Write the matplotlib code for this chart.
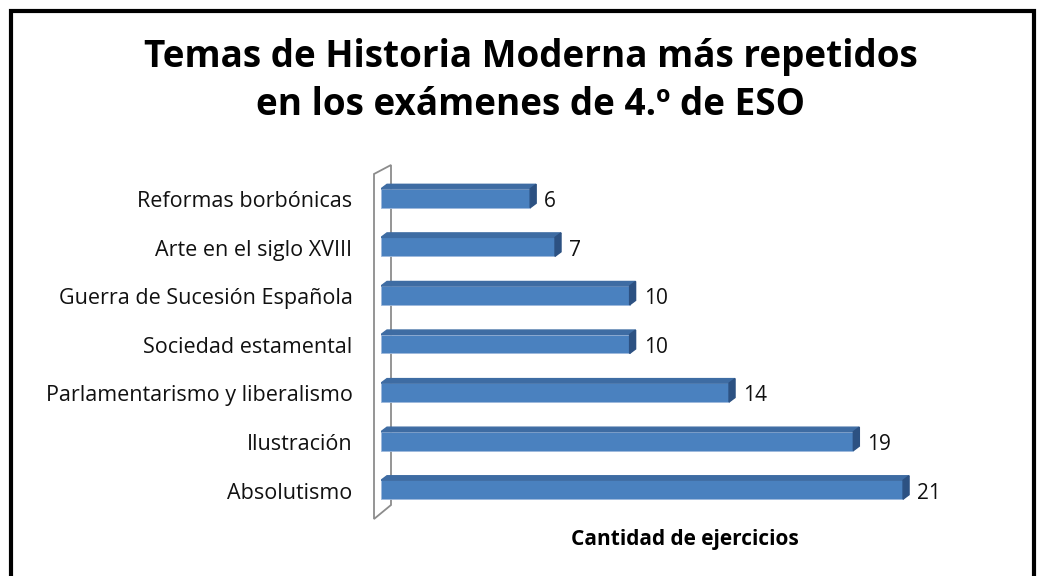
import numpy as np
import matplotlib.pyplot as plt
from matplotlib.patches import Polygon, Rectangle

# Data (top to bottom in the chart)
temas = ['Reformas borbónicas', 'Arte en el siglo XVIII', 'Guerra de Sucesión Española',
         'Sociedad estamental', 'Parlamentarismo y liberalismo', 'Ilustración', 'Absolutismo']
cantidad = [6, 7, 10, 10, 14, 19, 21]

titulo = 'Temas de Historia Moderna más repetidos\nen los exámenes de 4.º de ESO'
eje_x = 'Cantidad de ejercicios'

plt.rcParams['font.family'] = ['Open Sans', 'DejaVu Sans']

W, H = 1042, 576
fig = plt.figure(figsize=(W / 100, H / 100), dpi=100)

# axes placed in pixels: x 381 -> 0, 24.86 px per unit
px_unit = 24.86
ax_left, ax_w = 381, 25 * px_unit
ax_top, ax_bot = 174, 514
ax = fig.add_axes([ax_left / W, 1 - ax_bot / H, ax_w / W, (ax_bot - ax_top) / H])
ax.set_xlim(0, 25)
ax.set_ylim(-0.5, len(temas) - 0.5)
ax.axis('off')

n = len(temas)
ypos = np.arange(n)[::-1]
bh = 0.39
dx = 6 / px_unit          # depth offset in data units
dy = 4.5 / 48.6

front = '#4A81BF'
top_c = '#3E6CA3'
side_c = '#2C5182'

ax.barh(ypos, cantidad, height=bh, color=front, edgecolor='#9DB9DC', linewidth=0.6, zorder=3)
for y, v, t in zip(ypos, cantidad, temas):
    yt = y + bh / 2
    yb = y - bh / 2
    ax.add_patch(Polygon([(0, yt), (v, yt), (v + dx, yt + dy), (dx, yt + dy)],
                         closed=True, color=top_c, zorder=3))
    ax.add_patch(Polygon([(v, yb), (v + dx, yb + dy), (v + dx, yt + dy), (v, yt)],
                         closed=True, color=side_c, zorder=3))
    ax.text(v + dx + 0.33, y - 0.07, str(v), va='center', ha='left', fontsize=15, color='#111111')
    ax.text(-1.15, y - 0.07, t, va='center', ha='right', fontsize=15.5, color='#111111')

# left wall
wx0, wx1 = -7 / px_unit, 10 / px_unit
ax.add_patch(Polygon([(wx0, -0.5 - 5 / 48.6), (wx0, n - 0.5), (wx1, n - 0.5 + 9 / 48.6),
                      (wx1, -0.5 + 9 / 48.6)], closed=True, fill=False, edgecolor='#8C8C8C',
                     linewidth=1.3, clip_on=False, zorder=2))

fig.text(685 / W, 1 - 539 / H, eje_x, ha='center', va='center', fontsize=15, fontweight='bold')
fig.text(531 / W, 1 - 81 / H, titulo, ha='center', va='center', fontsize=26.6,
         fontweight='bold', linespacing=1.33)

# outer frame
fig.patches.append(Rectangle((11 / W, -0.05), (1034 - 11) / W, 1.05 - 11 / H,
                             transform=fig.transFigure, fill=False, edgecolor='black',
                             linewidth=3))

fig.savefig('out.png', dpi=100)
